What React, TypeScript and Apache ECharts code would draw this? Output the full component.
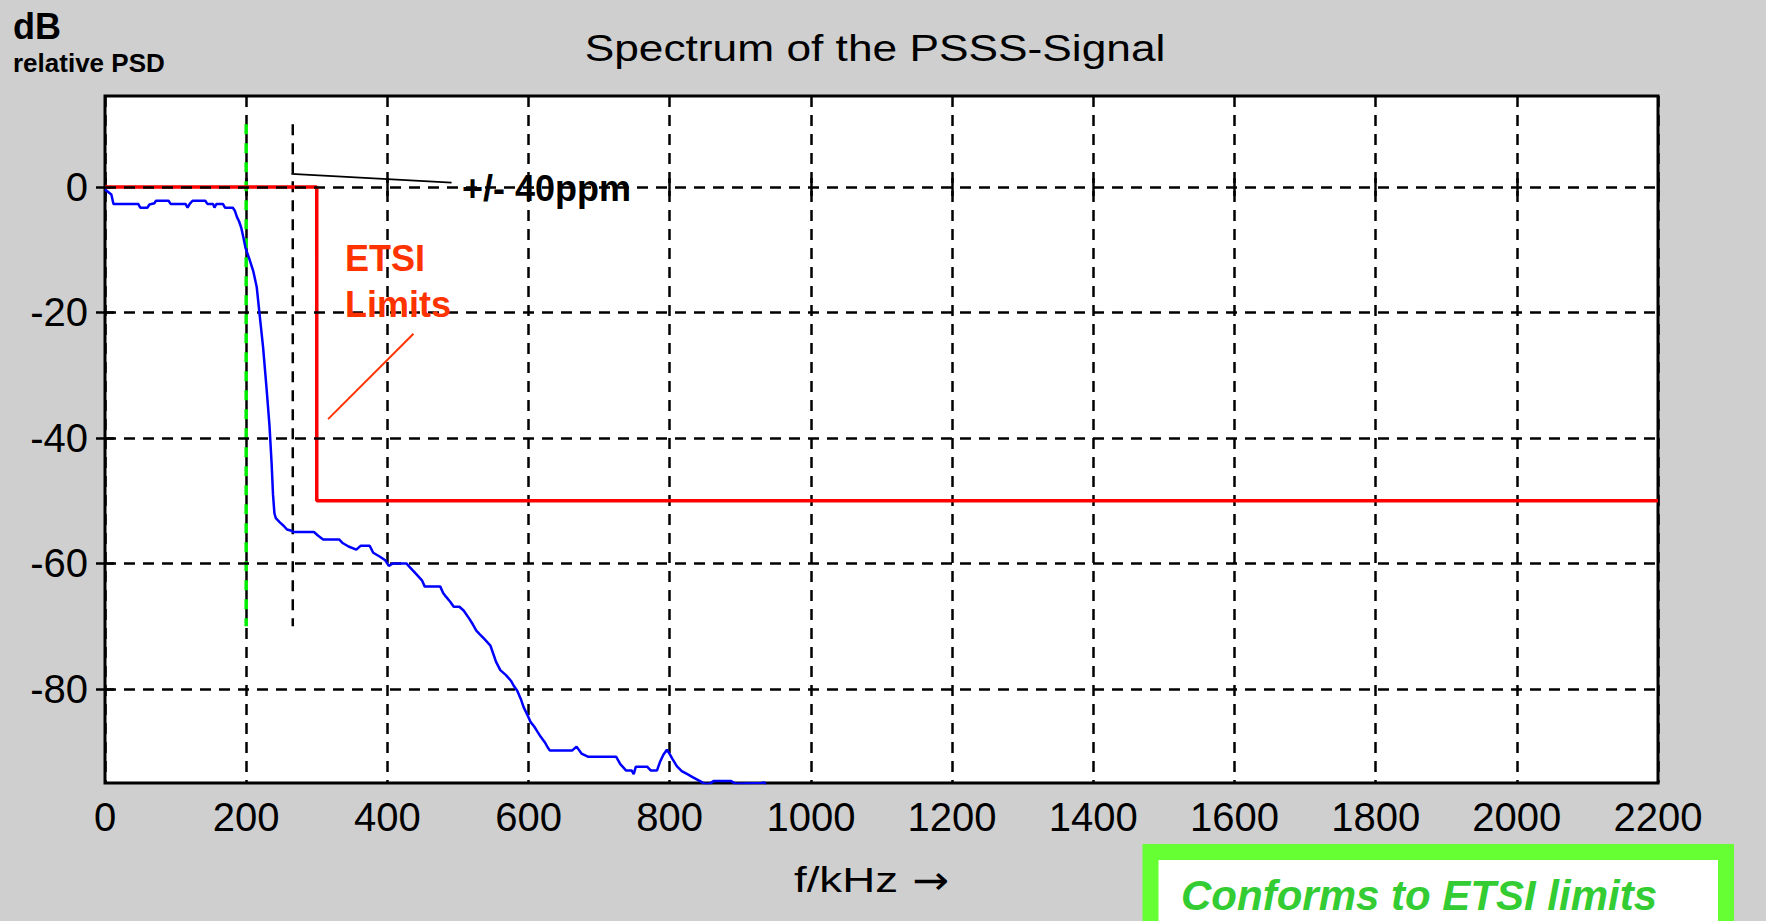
import React, { useEffect, useRef } from "react";
import * as echarts from "echarts";

// ---- data ----
const FREQ_KHZ = [
  0, 9, 12, 30, 47, 50, 60, 63, 70, 72, 90, 93, 114, 117, 120, 124, 142, 145, 153, 155, 158, 167, 170, 181,
  184, 187, 190, 193, 196, 199, 204, 210, 215, 219, 224, 229, 233, 236, 238, 240, 242, 248, 253, 258, 264,
  267, 296, 302, 309, 332, 336, 345, 356, 362, 375, 380, 389, 397, 402, 408, 427, 431, 435, 440, 449, 453,
  475, 479, 483, 489, 494, 502, 508, 516, 521, 526, 531, 537, 546, 550, 554, 560, 568, 575, 579, 584, 589,
  593, 599, 603, 608, 613, 617, 623, 627, 630, 662, 668, 675, 684, 724, 730, 738, 746, 749, 752, 768, 773,
  782, 786, 791, 796, 800, 804, 810, 817, 825, 833, 843, 849, 857, 862, 887, 893, 930, 934, 938, 960,
];
const PSD_DB = [
  -0.4, -1.2, -2.7, -2.7, -2.7, -3.3, -3.3, -2.8, -2.6, -2.2, -2.2, -2.7, -2.7, -3.3, -2.7, -2.2, -2.2, -2.7,
  -2.7, -3.3, -2.7, -2.7, -3.3, -3.3, -3.8, -4.8, -5.5, -6.5, -8, -9.7, -11.3, -13.4, -16, -20.3, -25.6,
  -32.3, -38, -44, -49, -52, -52.8, -53.5, -54, -54.6, -54.8, -55, -55, -55.6, -56.2, -56.2, -56.7, -57.3,
  -57.8, -57.2, -57.2, -58.3, -58.9, -59.5, -60.4, -60, -60, -60.5, -61, -61.6, -62.7, -63.7, -63.7, -64.7,
  -65.3, -66.1, -66.9, -66.9, -67.5, -68.8, -69.7, -70.7, -71.3, -72, -73.1, -74.4, -75.7, -77, -77.8,
  -78.7, -79.5, -80.3, -81.6, -82.9, -84.3, -85.3, -86, -86.9, -87.6, -88.5, -89.3, -89.8, -89.8, -89.2,
  -90.3, -90.8, -90.8, -92, -93, -93, -93.6, -92.4, -92.4, -93, -93, -91.7, -90.5, -89.7, -90.4, -91.2,
  -92.3, -93.1, -93.6, -94.1, -94.7, -95.1, -95.1, -94.7, -94.7, -95.1, -95, -94.9, -96, -98,
];
const LIMIT_KHZ = [0, 300, 300, 2200];
const LIMIT_DB = [0, 0, -50, -50];

const X_MIN = 0;
const X_MAX = 2200;
const X_STEP = 200;
const Y_MIN = -95;
const Y_MAX = 14.5;
const Y_TICKS = [0, -20, -40, -60, -80];

const CARRIER_KHZ = 200;
const OFFSET_KHZ = 266;
const MARKER_DB = [10, -70];
const PPM_POINTER_KHZ = [264, 491];
const PPM_POINTER_DB = [2.1, 0.7];
const ETSI_POINTER_KHZ = [316, 437];
const ETSI_POINTER_DB = [-37, -23.4];

const TITLE = "Spectrum of the PSSS-Signal";
const Y_UNIT = "dB";
const Y_NAME = "relative PSD";
const X_NAME = "f/kHz";
const X_ARROW = "\u2192";
const PPM_TEXT = "+/- 40ppm";
const ETSI_TEXT = ["ETSI", "Limits"];
const CONFORM_TEXT = "Conforms to ETSI limits";

const FONT = '"Liberation Sans", Arial, Helvetica, sans-serif';

const pairs = (xs: number[], ys: number[]) => xs.map((x, i) => [x, ys[i]]);

export default function App() {
  const ref = useRef<HTMLDivElement>(null);

  useEffect(() => {
    if (!ref.current) return;
    const chart = echarts.init(ref.current, null, { renderer: "svg" });

    const gridDash = { color: "#000", width: 2.5, type: [11, 8] as any };

    const option: any = {
      animation: false,
      backgroundColor: "#cfcfcf",
      grid: {
        show: true,
        left: 105,
        top: 96,
        right: 108,
        bottom: 138,
        backgroundColor: "#ffffff",
        borderColor: "#000",
        borderWidth: 3,
      },
      xAxis: [
        {
          type: "value",
          min: X_MIN,
          max: X_MAX,
          interval: X_STEP,
          position: "bottom",
          axisLine: { show: false },
          axisTick: { show: true, inside: true, length: 9, lineStyle: { color: "#000", width: 2.5 } },
          axisLabel: {
            show: true,
            color: "#000",
            fontSize: 40,
            fontFamily: FONT,
            margin: 14,
            formatter: (v: number) => String(v),
          },
          splitLine: { show: true, lineStyle: gridDash },
        },
        {
          type: "value",
          min: X_MIN,
          max: X_MAX,
          interval: X_STEP,
          position: "top",
          axisLine: { show: false },
          axisTick: { show: true, inside: true, length: 9, lineStyle: { color: "#000", width: 2.5 } },
          axisLabel: { show: false },
          splitLine: { show: false },
        },
      ],
      yAxis: [
        {
          type: "value",
          min: Y_MIN,
          max: Y_MAX,
          position: "left",
          axisLine: { show: false },
          axisTick: {
            show: true,
            inside: true,
            length: 9,
            customValues: Y_TICKS,
            lineStyle: { color: "#000", width: 2.5 },
          },
          axisLabel: {
            show: true,
            customValues: Y_TICKS,
            color: "#000",
            fontSize: 40,
            fontFamily: FONT,
            margin: 17,
            formatter: (v: number) => String(v),
          },
          splitLine: { show: false },
        },
        {
          type: "value",
          min: Y_MIN,
          max: Y_MAX,
          position: "right",
          axisLine: { show: false },
          axisTick: {
            show: true,
            inside: true,
            length: 9,
            customValues: Y_TICKS,
            lineStyle: { color: "#000", width: 2.5 },
          },
          axisLabel: { show: false, customValues: Y_TICKS },
          splitLine: { show: false },
        },
      ],
      series: [
        {
          name: "grid",
          type: "line",
          data: [],
          silent: true,
          z: 1,
          markLine: {
            silent: true,
            symbol: ["none", "none"],
            label: { show: false },
            lineStyle: gridDash,
            emphasis: { disabled: true },
            data: Y_TICKS.map((v) => ({ yAxis: v })),
          },
        },
        {
          name: "carrier",
          type: "line",
          data: pairs([CARRIER_KHZ, CARRIER_KHZ], MARKER_DB),
          showSymbol: false,
          silent: true,
          z: 3,
          lineStyle: { color: "#00ee00", width: 3.5, type: [10, 9] },
        },
        {
          name: "offset",
          type: "line",
          data: pairs([OFFSET_KHZ, OFFSET_KHZ], MARKER_DB),
          showSymbol: false,
          silent: true,
          z: 3,
          lineStyle: { color: "#000", width: 2.5, type: [11, 8] },
        },
        {
          name: "ETSI limit",
          type: "line",
          data: pairs(LIMIT_KHZ, LIMIT_DB),
          showSymbol: false,
          silent: true,
          z: 4,
          lineStyle: { color: "#ff0000", width: 3.5 },
        },
        {
          name: "PSD",
          type: "line",
          data: pairs(FREQ_KHZ, PSD_DB),
          showSymbol: false,
          silent: true,
          clip: true,
          z: 5,
          lineStyle: { color: "#0000ff", width: 2.5 },
        },
        {
          name: "ppm pointer",
          type: "line",
          data: pairs(PPM_POINTER_KHZ, PPM_POINTER_DB),
          showSymbol: false,
          silent: true,
          z: 6,
          lineStyle: { color: "#000", width: 1.8 },
        },
        {
          name: "etsi pointer",
          type: "line",
          data: pairs(ETSI_POINTER_KHZ, ETSI_POINTER_DB),
          showSymbol: false,
          silent: true,
          z: 6,
          lineStyle: { color: "#ff3300", width: 2 },
        },
      ],
      graphic: [
        {
          type: "text",
          x: 13,
          y: 26,
          style: { text: Y_UNIT, fontSize: 36, fontWeight: "bold", fontFamily: FONT, fill: "#000", align: "left", verticalAlign: "middle" },
        },
        {
          type: "text",
          x: 13,
          y: 63,
          style: { text: Y_NAME, fontSize: 26, fontWeight: "bold", fontFamily: FONT, fill: "#000", align: "left", verticalAlign: "middle" },
        },
        {
          type: "text",
          x: 875,
          y: 49,
          scaleX: 1.23,
          style: { text: TITLE, fontSize: 36, fontFamily: FONT, fill: "#000", align: "center", verticalAlign: "middle" },
        },
        {
          type: "text",
          x: 846,
          y: 880,
          scaleX: 1.27,
          style: { text: X_NAME, fontSize: 36, fontFamily: FONT, fill: "#000", align: "center", verticalAlign: "middle" },
        },
        {
          type: "text",
          x: 931,
          y: 880,
          scaleX: 1.1,
          style: { text: X_ARROW, fontSize: 40, fontFamily: '"DejaVu Sans", sans-serif', fill: "#000", align: "center", verticalAlign: "middle" },
        },
        {
          type: "text",
          x: 462,
          y: 188,
          z: 100,
          style: { text: PPM_TEXT, fontSize: 36, fontWeight: "bold", fontFamily: FONT, fill: "#000", align: "left", verticalAlign: "middle" },
        },
        {
          type: "text",
          x: 345,
          y: 258,
          z: 100,
          style: { text: ETSI_TEXT[0], fontSize: 36, fontWeight: "bold", fontFamily: FONT, fill: "#ff3300", align: "left", verticalAlign: "middle" },
        },
        {
          type: "text",
          x: 345,
          y: 304,
          z: 100,
          style: { text: ETSI_TEXT[1], fontSize: 36, fontWeight: "bold", fontFamily: FONT, fill: "#ff3300", align: "left", verticalAlign: "middle" },
        },
        {
          type: "rect",
          shape: { x: 1150.5, y: 852, width: 575.5, height: 200 },
          style: { fill: "#ffffff", stroke: "#66ff33", lineWidth: 16 },
        },
        {
          type: "text",
          x: 1181,
          y: 895,
          z: 100,
          style: {
            text: CONFORM_TEXT,
            fontSize: 42,
            fontWeight: "bold",
            fontStyle: "italic",
            fontFamily: FONT,
            fill: "#33cc33",
            align: "left",
            verticalAlign: "middle",
          },
        },
      ],
    };

    chart.setOption(option);
    return () => chart.dispose();
  }, []);

  return (
    <div
      ref={ref}
      style={{ position: "fixed", left: 0, top: 0, width: 1766, height: 921 }}
    />
  );
}
